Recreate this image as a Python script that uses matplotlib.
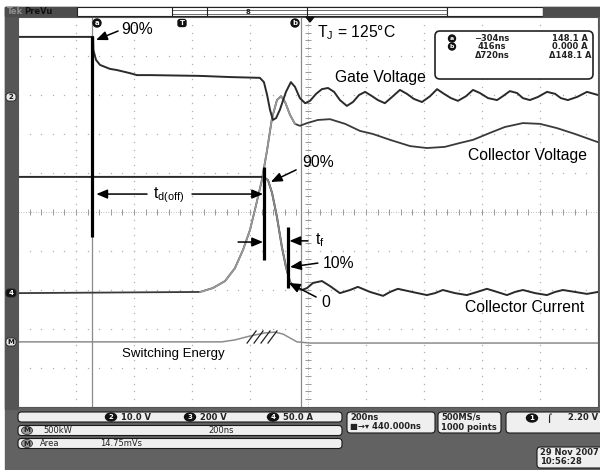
import numpy as np
import matplotlib
matplotlib.use("Agg")
import matplotlib.pyplot as plt
from matplotlib.patches import Rectangle, FancyBboxPatch, Ellipse, Polygon

plt.rcParams['font.family'] = ['Liberation Sans', 'DejaVu Sans']
plt.rcParams['mathtext.fontset'] = 'custom'
plt.rcParams['mathtext.rm'] = 'Liberation Sans'
plt.rcParams['mathtext.it'] = 'Liberation Sans:italic'

# traces: time in ns (200 ns/div), level in divisions from centre
gate_t = [-560, -301, -300, -291, -277, -243, -219, -174, -150, -105,
          68, 171, 274, 288, 299, 309, 319, 330, 343, 364,
          381, 395, 412, 430, 447, 468, 488, 509, 530, 550,
          574, 595, 616, 637, 661, 681, 705, 730, 757, 781,
          805, 833, 861, 885, 909, 933, 957, 985, 1009, 1033,
          1061, 1092, 1112, 1136, 1161, 1181, 1205, 1233, 1264, 1292,
          1312, 1336, 1368, 1402, 1440]
gate_div = [4.49, 4.49, 4.15, 3.90, 3.77, 3.67, 3.64, 3.56, 3.51, 3.51,
            3.49, 3.46, 3.44, 3.33, 3.00, 2.62, 2.36, 2.41, 2.62, 3.08,
            3.33, 3.21, 2.92, 2.79, 2.85, 3.03, 3.15, 3.18, 3.08, 2.87,
            2.72, 2.82, 3.00, 3.08, 2.97, 2.87, 2.79, 2.95, 3.13, 3.03,
            2.90, 2.82, 2.97, 3.15, 3.03, 2.92, 2.85, 2.97, 3.13, 3.05,
            2.92, 2.87, 2.97, 3.10, 3.05, 2.92, 2.87, 2.95, 3.08, 3.03,
            2.92, 2.87, 2.95, 3.08, 3.00]

volt_t = [-560, 68, 112, 154, 188, 216, 240, 261, 281, 299,
          316, 333, 347, 361, 378, 395, 412, 437, 474, 516,
          568, 619, 664, 723, 792, 850, 912, 964, 1009, 1068,
          1119, 1181, 1240, 1299, 1361, 1440]
volt_div = [-2.08, -2.05, -1.95, -1.77, -1.44, -0.97, -0.46, 0.18, 0.82, 1.59,
            2.41, 2.87, 2.97, 2.82, 2.49, 2.26, 2.21, 2.28, 2.36, 2.38,
            2.26, 2.08, 2.00, 1.85, 1.69, 1.64, 1.67, 1.77, 1.85, 2.03,
            2.18, 2.28, 2.26, 2.15, 2.00, 1.79]

current_t = [-560, 285, 302, 316, 333, 350, 364, 378, 395, 419,
             437, 457, 488, 516, 550, 585, 612, 654, 699, 723,
             750, 799, 850, 878, 905, 947, 988, 1023, 1057, 1092,
             1126, 1154, 1181, 1223, 1264, 1292, 1319, 1361, 1402, 1440]
current_div = [0.90, 0.90, 0.82, 0.49, -0.13, -0.90, -1.41, -1.79, -1.95, -2.00,
               -1.95, -1.82, -1.77, -1.90, -2.08, -2.00, -1.92, -2.05, -2.15, -2.05,
               -1.97, -2.05, -2.13, -2.08, -2.00, -2.08, -2.13, -2.05, -1.97, -2.05,
               -2.13, -2.05, -2.00, -2.08, -2.13, -2.05, -2.00, -2.05, -2.10, -2.05]

energy_t = [-560, 143, 188, 240, 292, 326, 354, 378, 402, 447, 1440]
energy_div = [-3.33, -3.33, -3.28, -3.18, -3.10, -3.08, -3.13, -3.23, -3.33, -3.36, -3.36]

cursor_t = [-304, 416]
readout = [["\u2212304ns", "148.1 A"], ["416ns", "0.000 A"], ["\u0394720ns", "\u0394148.1 A"]]
scales = [["2", "10.0 V"], ["3", "200 V"], ["4", "50.0 A"]]

ui = dict(family='DejaVu Sans', weight='bold', size=6, color='#222222', va='center')

fig = plt.figure(figsize=(6, 4.7), dpi=100)

# scope frame, drawn in pixel units
bg = fig.add_axes([0, 0, 1, 1], zorder=0)
bg.set_xlim(0, 600)
bg.set_ylim(470, 0)
bg.axis('off')
bg.add_patch(Rectangle((5, 7), 595, 463, color='#626262'))
bg.add_patch(Rectangle((5, 7), 13, 402, color='#555555'))

# top status bar
bg.add_patch(Rectangle((5, 7), 72, 9, color='#4c4c4c'))
bg.text(7, 11.8, 'Tek', **{**ui, 'color': '#8e8e8e'})
bg.text(24, 11.8, 'PreVu', **{**ui, 'color': '#111111'})
bg.add_patch(Rectangle((77, 7), 370, 9, fc='white', ec='#222222', lw=0.8))
bg.plot([172, 447], [10, 10], color='#555555', lw=0.6)
bg.plot([172, 447], [13.5, 13.5], color='#555555', lw=0.6)
for x in (172, 207, 307):
    bg.plot([x, x], [7, 16], color='#222222', lw=0.8)
bg.text(248, 12, '8', ha='center', **{**ui, 'size': 5})
bg.add_patch(Rectangle((447, 7), 96, 9, fc='white', ec='#222222', lw=0.8))
bg.add_patch(Rectangle((543, 7), 57, 9, color='#4c4c4c'))

# channel markers on the left edge
for y, lab, dark in [(97, '2', False), (293, '4', True), (342, 'M', False)]:
    bg.add_patch(FancyBboxPatch((6, y - 4), 10, 8, boxstyle='round,pad=0,rounding_size=3',
                                fc='#111111' if dark else '#e6e6e6', ec='#222222', lw=0.6))
    bg.text(11, y, lab, ha='center', **{**ui, 'size': 5,
                                         'color': 'white' if dark else '#111111'})

# bottom readouts
def box(axis, x, y, w, h, r=3.5, lw=0.8):
    axis.add_patch(FancyBboxPatch((x, y), w, h, boxstyle=f'round,pad=0,rounding_size={r}',
                                  fc='#efefef', ec='#1a1a1a', lw=lw))

def badge(x, y, lab):
    bg.add_patch(Ellipse((x, y), 11, 8, color='#111111'))
    bg.text(x, y, lab, ha='center', **{**ui, 'size': 5, 'color': 'white'})

box(bg, 18, 412, 324, 10)
box(bg, 18, 425.5, 324, 10)
box(bg, 18, 438.5, 324, 10)
for (ch, val), xb in zip(scales, [111, 190, 273]):
    badge(xb, 417, ch)
    bg.text(xb + 10, 417, val, **ui)
bg.add_patch(Ellipse((27, 430.5), 11, 8, fc='#9a9a9a', ec='#333333', lw=0.6))
bg.text(27, 430.5, 'M', ha='center', **{**ui, 'size': 5})
bg.text(43, 430.5, '500kW', **{**ui, 'weight': 'normal'})
bg.text(208, 430.5, '200ns', **{**ui, 'weight': 'normal'})
bg.add_patch(Ellipse((27, 443.5), 11, 8, fc='#9a9a9a', ec='#333333', lw=0.6))
bg.text(27, 443.5, 'M', ha='center', **{**ui, 'size': 5})
bg.text(40, 443.5, 'Area', **{**ui, 'weight': 'normal'})
bg.text(100, 443.5, '14.75mVs', **{**ui, 'weight': 'normal'})

box(bg, 347, 412, 88, 21)
bg.text(350, 417.5, '200ns', **ui)
bg.text(350, 427, '\u25a0\u2192\u25be 440.000ns', **ui)
box(bg, 438, 412, 63, 21)
bg.text(441, 417.5, '500MS/s', **ui)
bg.text(441, 427, '1000 points', **ui)
box(bg, 506, 412, 100, 21)
badge(532, 418, '1')
bg.text(546, 418, '\u2320', **ui)
bg.text(598, 418, '2.20 V', ha='right', **ui)
box(bg, 537, 447, 70, 21)
bg.text(540, 452.5, '29 Nov 2007', **ui)
bg.text(540, 462, '10:56:28', **ui)

# the graticule and traces
ax = fig.add_axes([18 / 600, 63 / 470, 580 / 600, 390 / 470], zorder=1)
ax.set_facecolor('white')
ax.set_xlim(-560, 1440)
ax.set_ylim(-5, 5)
ax.set_xticks([])
ax.set_yticks([])
for s in ax.spines.values():
    s.set_color('#555555')
    s.set_linewidth(0.8)

minor_t = np.arange(-560, 1441, 40)
minor_d = np.arange(-5, 5.01, 0.2)
for t in range(-360, 1440, 200):
    ax.plot(np.full(len(minor_d), t), minor_d, ls='none', marker='s', ms=0.9,
            mec='none', color='#b0b0b0')
for d in range(-4, 5):
    ax.plot(minor_t, np.full(len(minor_t), d), ls='none', marker='s', ms=0.9,
            mec='none', color='#b0b0b0')
ax.vlines(minor_t, -0.07, 0.07, color='#999999', lw=0.7)
ax.hlines(minor_d, 430, 450, color='#999999', lw=0.7)
ax.axhline(0, color='#aaaaaa', lw=0.6, ls=(0, (1, 2)))
ax.axvline(440, color='#aaaaaa', lw=0.6, ls=(0, (1, 2)))

for t in cursor_t:
    ax.axvline(t, color='#8a8a8a', lw=0.9)

ax.plot(energy_t, energy_div, color='#8c8c8c', lw=1.1)
ax.plot(volt_t, volt_div, color='#3a3a3a', lw=1.3)
ax.plot(volt_t[1:16], volt_div[1:16], color='#9a9a9a', lw=1.2)
ax.plot(current_t, current_div, color='#2a2a2a', lw=1.4)
ax.plot(current_t[1:10], current_div[1:10], color='#8a8a8a', lw=1.2)
ax.plot(gate_t, gate_div, color='#2a2a2a', lw=1.4)

# annotations
txt = dict(color='black', fontsize=11.3, va='center')
arrow = dict(arrowstyle='-|>,head_length=0.6,head_width=0.25', color='black', lw=1.1,
             mutation_scale=11, shrinkA=0, shrinkB=0)

ax.plot([-304, -304], [4.51, -0.64], color='black', lw=2.3, solid_capstyle='butt')
ax.plot([288, 288], [1.15, -1.23], color='black', lw=2.3, solid_capstyle='butt')
ax.plot([371, 371], [-0.38, -1.95], color='black', lw=2.3, solid_capstyle='butt')

ax.annotate('', xy=(-291, 4.41), xytext=(-215, 4.64), arrowprops=arrow)
ax.text(-205, 4.69, '90%', **txt)
ax.text(471, 4.59, 'T$_{\\mathrm{J}}$ = 125\u00b0C', **txt)
ax.text(533, 3.44, 'Gate Voltage', **txt)
ax.text(992, 1.46, 'Collector Voltage', **txt)
ax.annotate('', xy=(312, 0.77), xytext=(399, 1.08), arrowprops=arrow)
ax.text(419, 1.26, '90%', **txt)
ax.annotate('', xy=(-290, 0.46), xytext=(-115, 0.46), arrowprops=arrow)
ax.annotate('', xy=(285, 0.46), xytext=(40, 0.46), arrowprops=arrow)
ax.text(-39, 0.42, 't$_{\\mathrm{d(off)}}$', ha='center', **txt)
ax.annotate('', xy=(285, -0.77), xytext=(199, -0.77), arrowprops=arrow)
ax.annotate('', xy=(376, -0.74), xytext=(440, -0.74), arrowprops=arrow)
ax.text(464, -0.72, 't$_{\\mathrm{f}}$', **txt)
ax.annotate('', xy=(378, -1.41), xytext=(474, -1.31), arrowprops=arrow)
ax.text(492, -1.31, '10%', **txt)
ax.annotate('', xy=(374, -1.82), xytext=(468, -2.18), arrowprops=arrow)
ax.text(485, -2.31, '0', **txt)
ax.text(981, -2.46, 'Collector Current', **txt)
ax.text(-201, -3.64, 'Switching Energy', **{**txt, 'fontsize': 9.5})
for t0 in (230, 254, 278, 302):
    ax.plot([t0, t0 + 31], [-3.36, -3.05], color='#222222', lw=0.9)

# overlay markers and the cursor readout, in pixel units
fg = fig.add_axes([0, 0, 1, 1], zorder=2)
fg.set_xlim(0, 600)
fg.set_ylim(470, 0)
fg.axis('off')
fg.patch.set_alpha(0)
for x, lab in [(97, 'a'), (295, 'b')]:
    fg.add_patch(Ellipse((x, 23), 8, 8, color='#111111'))
    fg.text(x, 23, lab, ha='center', **{**ui, 'size': 5, 'color': 'white'})
fg.add_patch(FancyBboxPatch((178, 19.5), 8, 7, boxstyle='round,pad=0,rounding_size=2',
                            color='#111111'))
fg.text(182, 23, 'T', ha='center', **{**ui, 'size': 5, 'color': 'white'})
fg.add_patch(Polygon([[306, 17], [314, 17], [310, 22]], color='#111111'))

fg.add_patch(FancyBboxPatch((435, 31), 158, 48, boxstyle='round,pad=0,rounding_size=5',
                            fc='white', ec='#222222', lw=1.2))
for y, lab, row in [(38.5, 'a', 0), (46.5, 'b', 1), (55.5, None, 2)]:
    if lab:
        fg.add_patch(Ellipse((452, y), 7, 7, color='#111111'))
        fg.text(452, y, lab, ha='center', **{**ui, 'size': 4.5, 'color': 'white'})
    fg.text(492, y, readout[row][0], ha='center', **ui)
    fg.text(570, y, readout[row][1], ha='center', **ui)

fig.savefig('out.png', dpi=100, facecolor='white')
